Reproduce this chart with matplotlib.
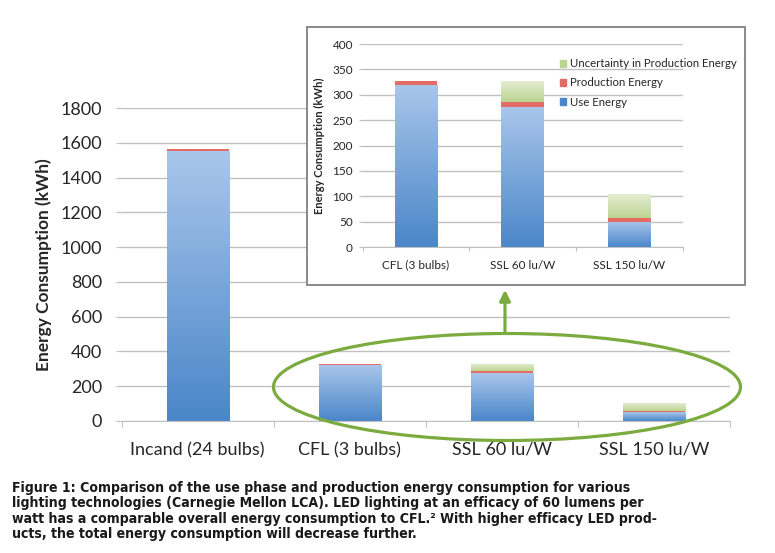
import matplotlib
matplotlib.use("Agg")
import matplotlib.pyplot as plt
from matplotlib.patches import Rectangle, Ellipse, FancyArrowPatch
import numpy as np

# data (kWh)
categories = ["Incand (24 bulbs)", "CFL (3 bulbs)", "SSL 60 lu/W", "SSL 150 lu/W"]
use_energy = [1550, 320, 275, 50]
prod_energy = [12, 8, 10, 8]
uncertainty = [0, 0, 43, 47]
main_ticks = [0, 200, 400, 600, 800, 1000, 1200, 1400, 1600, 1800]
inset_ticks = [0, 50, 100, 150, 200, 250, 300, 350, 400]
caption = ("Figure 1: Comparison of the use phase and production energy consumption for various\n"
           "lighting technologies (Carnegie Mellon LCA). LED lighting at an efficacy of 60 lumens per\n"
           "watt has a comparable overall energy consumption to CFL.\u00b2 With higher efficacy LED prod-\n"
           "ucts, the total energy consumption will decrease further.")

BLUE_TOP, BLUE_BOT = "#a9c6ea", "#4a86c9"
GREEN_TOP, GREEN_BOT = "#e6eed5", "#bcd492"
RED = "#e46c66"
GRID = "#c0c0c0"


def gradient_bars(ax, x, bottom, height, width, c_top, c_bot):
    bars = ax.bar(x, height, width, bottom=bottom, color="none", edgecolor="none")
    grad = np.linspace(0, 1, 256).reshape(-1, 1)
    cmap = matplotlib.colors.LinearSegmentedColormap.from_list("g", [c_bot, c_top])
    for b in bars:
        if b.get_height() <= 0:
            continue
        x0, y0 = b.get_x(), b.get_y()
        im = ax.imshow(grad, cmap=cmap, origin="lower", aspect="auto",
                       extent=[x0, x0 + b.get_width(), y0, y0 + b.get_height()],
                       zorder=2)
        im.set_clip_path(b)
    return bars


def style_axes(ax, n, ticks, lab_size, tick_len, ypad):
    ax.set_xlim(0, n)
    ax.set_ylim(ticks[0], ticks[-1])
    ax.set_yticks(ticks)
    ax.yaxis.grid(True, color=GRID, lw=1)
    ax.set_axisbelow(True)
    for s in ["top", "right", "left"]:
        ax.spines[s].set_visible(False)
    ax.spines["bottom"].set_color(GRID)
    ax.set_xticks(np.arange(n + 1))
    ax.set_xticklabels([])
    ax.tick_params(axis="x", which="major", length=tick_len, color=GRID)
    ax.tick_params(axis="y", length=tick_len, color=GRID, labelsize=lab_size,
                   labelcolor="#262626", pad=ypad)
    ax.set_xticks(np.arange(n) + 0.5, minor=True)
    ax.tick_params(axis="x", which="minor", length=0, labelsize=lab_size,
                   labelcolor="#262626")


def stacked(ax, use, prod, unc, width):
    x = np.arange(len(use)) + 0.5
    use = np.array(use)
    prod = np.array(prod)
    gradient_bars(ax, x, 0, use, width, BLUE_TOP, BLUE_BOT)
    ax.bar(x, prod, width, bottom=use, color=RED, zorder=2)
    gradient_bars(ax, x, use + prod, unc, width, GREEN_TOP, GREEN_BOT)


plt.rcParams["font.family"] = ["Lato", "DejaVu Sans"]
fig = plt.figure(figsize=(7.75, 5.53), dpi=100)

# main chart
ax = fig.add_axes([0.157, 0.2387, 0.785, 0.566])
stacked(ax, use_energy, prod_energy, uncertainty, 0.41)
style_axes(ax, len(categories), main_ticks, 13, 4, 10)
ax.set_xticklabels(categories, minor=True)
ax.tick_params(axis="x", which="minor", pad=15)
ax.set_ylabel("Energy Consumption (kWh)", fontsize=12.5, fontweight="bold",
              color="#262626", labelpad=6)

# inset frame
fig.patches.append(Rectangle((0.396, 0.4846), 0.565, 0.4665, transform=fig.transFigure,
                             facecolor="white", edgecolor="#808080", lw=1.3, zorder=3))

ins = fig.add_axes([0.468, 0.5533, 0.413, 0.367], zorder=4)
ins.patch.set_alpha(0)
stacked(ins, use_energy[1:], prod_energy[1:], uncertainty[1:], 0.4)
style_axes(ins, len(categories) - 1, inset_ticks, 8.5, 3, 4)
ins.set_xticklabels(categories[1:], minor=True)
ins.tick_params(axis="x", which="minor", pad=9)
ins.set_ylabel("Energy Consumption (kWh)", fontsize=8, fontweight="bold",
               color="#262626", labelpad=5)

handles = [Rectangle((0, 0), 1, 1, color=GREEN_BOT), Rectangle((0, 0), 1, 1, color=RED),
           Rectangle((0, 0), 1, 1, color=BLUE_BOT)]
ins.legend(handles, ["Uncertainty in Production Energy", "Production Energy", "Use Energy"],
           loc="upper left", bbox_to_anchor=(0.715, 0.905), bbox_transform=fig.transFigure,
           frameon=False, fontsize=8.2, handlelength=0.55, handleheight=0.55,
           handletextpad=0.35, labelspacing=0.72, labelcolor="#262626", borderpad=0)

# green ellipse and arrow
fig.patches.append(Ellipse((507 / 775, 1 - 387 / 553), 467 / 775, 107 / 553,
                           transform=fig.transFigure, fill=False, edgecolor="#7bab3f",
                           lw=2.3, zorder=5))
fig.patches.append(FancyArrowPatch((505 / 775, 1 - 334 / 553), (505 / 775, 1 - 287 / 553),
                                   transform=fig.transFigure, arrowstyle="-|>",
                                   mutation_scale=16, color="#7bab3f", lw=2.3, zorder=5))

fig.text(12 / 775, 1 - 481 / 553, caption, ha="left", va="top", fontsize=10.1,
         fontweight="bold", family="DejaVu Sans", fontstretch="condensed",
         color="#1a1a1a", linespacing=1.12)

fig.savefig("out.png", dpi=100)
